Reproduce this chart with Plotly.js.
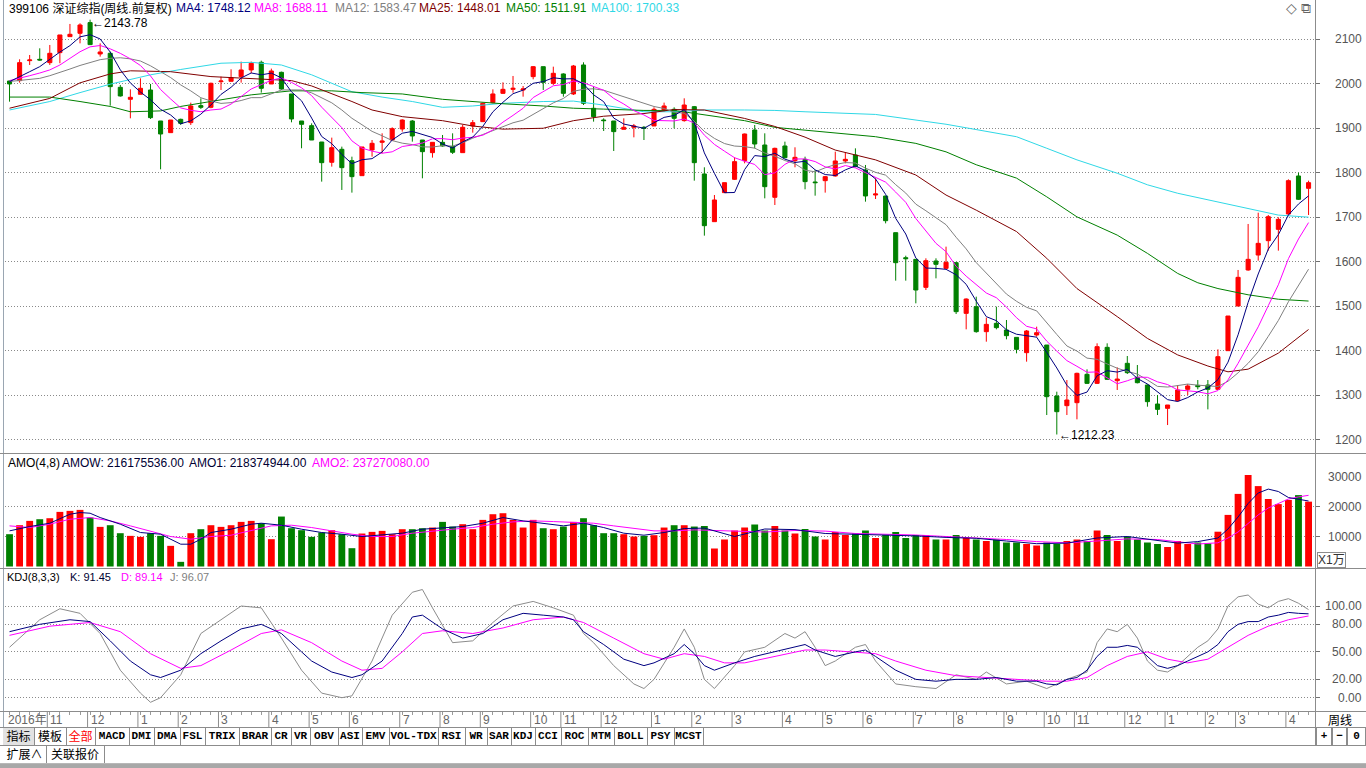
<!DOCTYPE html>
<html><head><meta charset="utf-8">
<script src="https://cdn.plot.ly/plotly-3.0.1.min.js"></script>
<style>
html,body{margin:0;padding:0;background:#fff;width:1366px;height:768px;overflow:hidden;}
#chart{position:absolute;left:0;top:0;width:1366px;height:768px;}
.ln{position:absolute;background:#8c8c8c;}
.cell{position:absolute;box-sizing:border-box;height:17px;border-right:1px solid #8c8c8c;font:12px 'Noto Sans CJK SC',sans-serif;line-height:16px;text-align:center;color:#000;white-space:nowrap;overflow:hidden;}
.lat{font:bold 11px 'Liberation Mono','DejaVu Sans Mono',monospace;line-height:16px;}
</style></head><body>
<div id="chart"></div>
<div id="chrome"></div>
<script>
// ---------- data (weekly, 399106) ----------
const open  = [2006.1,2006.9,2051.8,2054.8,2047.3,2069.8,2105.7,2113.2,2137.2,2066.8,2068.3,1991.9,1965.0,1976.2,1985.9,1916.3,1890.1,1920.0,1912.6,1950.8,1947.0,2004.6,2005.4,2015.9,2030.9,2048.1,1999.4,2025.6,1977.0,1916.3,1905.8,1869.1,1823.5,1852.7,1827.2,1793.5,1851.2,1868.4,1873.6,1898.3,1916.3,1873.6,1845.2,1868.4,1858.7,1845.2,1905.1,1914.8,1957.5,1978.4,1987.4,1985.9,2015.9,2038.3,2000.9,2021.9,1977.0,2042.1,1944.8,1918.5,1916.3,1897.6,1902.1,1902.1,1905.1,1941.0,1942.5,1917.1,1948.5,1797.3,1690.2,1755.4,1785.3,1827.2,1896.1,1862.4,1744.9,1860.2,1827.2,1830.2,1779.3,1782.3,1792.8,1826.5,1839.9,1806.3,1750.1,1747.8,1665.5,1609.3,1605.6,1542.7,1601.9,1585.4,1598.1,1484.3,1499.3,1443.2,1461.9,1446.9,1430.4,1396.0,1435.7,1413.2,1298.7,1277.0,1283.7,1347.4,1327.1,1408.0,1333.1,1372.1,1340.6,1323.4,1280.7,1271.0,1288.2,1313.7,1322.6,1323.4,1313.7,1400.5,1500.8,1581.7,1615.3,1647.5,1673.0,1707.4,1792.8,1765.1];
const high  = [2007.0,2054.8,2064.5,2079.5,2087.0,2109.5,2134.2,2135.7,2143.78,2090.7,2072.0,1997.2,1987.4,2012.1,1999.4,1916.3,1918.5,1921.5,1957.5,1967.2,2002.4,2015.9,2032.4,2049.6,2049.6,2051.8,2033.9,2027.1,1977.0,1916.3,1911.0,1869.1,1878.9,1858.7,1836.2,1857.9,1873.6,1888.6,1902.1,1920.0,1918.5,1873.6,1868.4,1884.9,1888.6,1907.3,1918.5,1957.5,1987.4,2003.1,2017.4,1994.9,2039.8,2038.3,2038.3,2023.4,2042.1,2048.1,1993.4,1922.3,1916.3,1922.3,1909.6,1905.1,1947.0,1957.5,1947.0,1967.2,1950.0,1812.3,1750.1,1777.8,1834.7,1888.0,1907.3,1888.6,1856.4,1869.9,1857.2,1836.2,1806.3,1792.8,1847.4,1845.2,1854.9,1817.5,1787.6,1747.8,1665.5,1613.8,1605.6,1607.9,1607.9,1634.1,1599.6,1518.0,1521.8,1474.6,1499.3,1469.4,1430.4,1446.9,1454.4,1413.2,1308.4,1334.6,1351.1,1358.6,1417.0,1417.0,1363.0,1388.5,1368.3,1324.9,1300.9,1278.5,1323.4,1325.6,1334.6,1334.6,1403.5,1478.3,1581.7,1685.0,1710.4,1705.2,1700.0,1785.3,1800.2,1782.3];
const low   = [1959.7,2002.4,2042.1,2051.8,2042.1,2046.0,2105.7,2090.7,2087.0,2060.8,1950.7,1971.0,1922.3,1976.2,1920.8,1807.8,1890.1,1907.3,1907.3,1943.3,1944.8,1985.9,2005.4,2002.4,2023.4,1980.0,1999.4,1985.9,1913.3,1855.0,1873.6,1780.1,1813.8,1761.4,1755.4,1793.5,1836.2,1843.7,1873.6,1892.4,1869.9,1787.6,1834.0,1858.7,1842.2,1845.2,1890.1,1914.8,1956.0,1977.0,1979.9,1970.9,2009.9,1985.9,1997.2,1970.9,1974.7,1952.2,1914.8,1893.8,1848.9,1897.6,1879.6,1873.6,1905.1,1937.3,1899.8,1914.8,1782.3,1658.8,1690.2,1755.4,1783.8,1821.2,1854.9,1742.6,1727.6,1832.4,1812.3,1762.9,1748.6,1755.4,1791.3,1821.2,1812.3,1735.1,1741.1,1686.4,1557.7,1557.7,1506.8,1536.7,1562.9,1584.0,1482.8,1448.4,1440.9,1420.7,1448.4,1426.0,1394.5,1375.8,1431.9,1256.0,1212.23,1256.0,1246.3,1325.6,1325.6,1334.6,1312.2,1348.1,1327.1,1274.7,1256.0,1233.5,1286.0,1300.9,1313.7,1268.7,1312.2,1400.5,1500.8,1580.0,1602.6,1625.1,1625.1,1706.0,1739.0,1705.2];
const close = [1999.4,2047.3,2053.3,2053.3,2068.3,2109.5,2111.0,2131.9,2087.8,2071.3,1993.4,1972.5,1969.5,1989.7,1923.8,1887.1,1918.5,1911.0,1950.0,1947.0,2000.9,2006.1,2013.6,2030.9,2045.8,1989.7,2028.6,1988.2,1920.8,1908.8,1873.6,1822.7,1856.4,1811.5,1791.3,1857.9,1866.2,1871.4,1899.1,1918.5,1882.6,1847.4,1868.4,1860.2,1846.0,1902.1,1912.6,1956.0,1977.0,1987.4,1989.7,1988.2,2038.3,2003.1,2023.4,1978.4,2039.8,1956.0,1926.0,1917.1,1892.4,1902.1,1905.1,1899.8,1942.5,1950.0,1922.3,1952.2,1822.7,1681.2,1738.9,1777.8,1825.0,1887.1,1864.6,1768.8,1854.9,1833.9,1834.7,1780.1,1777.8,1791.3,1826.5,1830.2,1813.8,1747.9,1752.4,1692.4,1598.1,1607.1,1536.7,1602.6,1594.4,1598.9,1488.1,1516.5,1443.2,1459.6,1452.2,1434.2,1403.5,1444.7,1440.9,1297.2,1263.5,1289.7,1349.6,1327.1,1409.5,1336.1,1336.8,1351.1,1328.6,1286.0,1268.7,1278.5,1312.2,1321.2,1319.6,1313.7,1387.0,1478.3,1565.2,1605.6,1641.5,1701.4,1695.4,1782.3,1740.4,1777.8];

const ma4  = [2004.6,2015.0,2027.0,2038.3,2055.6,2071.1,2085.5,2105.2,2110.1,2100.5,2071.1,2031.3,2001.7,1981.3,1963.9,1942.5,1929.8,1910.1,1916.7,1931.6,1952.2,1976.0,1991.9,2012.9,2024.1,2020.0,2023.8,2013.1,1981.8,1961.6,1922.9,1881.5,1865.4,1841.1,1820.5,1829.3,1831.7,1846.7,1873.7,1888.8,1892.9,1886.9,1879.2,1864.7,1855.5,1869.2,1880.2,1904.2,1936.9,1958.3,1977.5,1985.6,2000.9,2004.8,2013.3,2010.8,2011.2,1999.4,1975.1,1959.7,1922.9,1909.4,1904.2,1899.9,1912.4,1924.4,1928.7,1941.8,1911.8,1844.6,1798.8,1755.2,1755.7,1807.2,1838.6,1836.4,1843.9,1830.6,1823.1,1825.9,1806.6,1796.0,1793.9,1806.5,1815.5,1804.6,1786.1,1751.6,1697.7,1662.5,1608.6,1586.1,1585.2,1583.2,1571.0,1549.5,1511.7,1476.9,1467.9,1447.3,1437.4,1433.7,1430.8,1396.6,1361.6,1322.8,1300.0,1307.5,1344.0,1355.6,1352.4,1358.4,1338.2,1325.6,1308.6,1290.5,1286.4,1295.2,1307.9,1316.7,1335.4,1374.7,1436.1,1509.0,1572.7,1628.4,1661.0,1705.2,1729.9,1748.12];
const ma8  = [2007.0,2012.0,2018.0,2024.0,2031.0,2042.0,2056.0,2071.8,2082.8,2085.8,2078.3,2068.2,2055.9,2040.9,2017.5,1986.9,1965.7,1945.7,1940.3,1937.1,1941.0,1943.1,1954.3,1972.3,1988.2,1998.0,2007.8,2013.0,2003.0,1990.8,1973.3,1947.3,1923.6,1901.3,1871.7,1855.4,1848.6,1843.9,1847.1,1859.0,1862.3,1866.8,1876.4,1876.7,1874.2,1878.0,1879.7,1884.4,1896.2,1913.7,1928.9,1944.9,1968.9,1981.5,1995.4,1998.2,2006.0,2002.1,1994.2,1985.3,1967.0,1954.4,1939.6,1929.8,1917.6,1916.9,1916.4,1920.8,1912.1,1884.5,1863.7,1848.5,1833.8,1825.9,1818.7,1795.8,1799.8,1818.9,1830.9,1831.1,1825.2,1813.3,1808.5,1816.2,1811.0,1800.3,1790.0,1779.0,1756.6,1733.6,1697.3,1668.9,1641.5,1622.8,1589.8,1567.8,1548.4,1530.0,1519.4,1498.4,1474.5,1455.3,1449.4,1421.9,1399.5,1378.2,1365.4,1352.0,1352.8,1339.2,1326.2,1332.9,1341.1,1340.6,1330.5,1324.4,1312.3,1310.4,1308.2,1303.6,1310.9,1334.9,1372.0,1412.9,1454.0,1501.5,1548.5,1607.1,1651.3,1688.11];
const ma12 = [2005.0,2007.0,2009.0,2012.0,2018.0,2025.0,2033.0,2041.0,2048.0,2054.0,2057.0,2058.3,2055.8,2051.0,2040.2,2026.3,2013.8,1997.3,1983.9,1968.5,1961.2,1955.8,1957.5,1962.3,1968.7,1968.7,1977.4,1985.9,1986.1,1985.9,1979.5,1969.1,1957.1,1940.9,1922.4,1907.9,1893.0,1883.1,1872.3,1866.5,1863.3,1858.2,1857.8,1860.9,1860.0,1867.6,1877.7,1885.9,1895.1,1904.8,1912.3,1918.1,1931.1,1944.1,1957.0,1966.9,1983.0,1987.5,1988.6,1985.4,1978.3,1971.2,1964.2,1956.8,1948.8,1944.4,1936.0,1933.8,1915.7,1892.8,1877.2,1865.6,1860.0,1858.7,1855.3,1844.4,1837.1,1827.5,1820.2,1805.8,1802.1,1811.2,1818.5,1822.9,1822.0,1810.4,1801.0,1794.7,1773.3,1754.4,1729.5,1714.7,1699.5,1683.4,1655.2,1629.1,1598.2,1574.2,1549.2,1527.6,1511.4,1497.9,1489.9,1464.5,1436.9,1411.1,1399.6,1383.8,1381.0,1370.7,1361.1,1354.1,1347.9,1334.7,1320.3,1318.8,1322.8,1325.5,1323.0,1321.8,1320.0,1331.8,1350.8,1372.1,1398.1,1432.7,1468.3,1510.3,1546.0,1583.47];
const ma25Idx = [0,4,7,10,12,16,20,24,28,30,32,34,36,39,43,46,49,53,56,59,63,66,69,73,76,79,82,86,90,93,96,100,103,106,110,113,116,119,121,123,126,129];
const ma25 = [1945,1967,2002,2022,2029,2027,2016,2012,2007,1995,1978,1960,1941,1926,1917,1905,1898,1900,1917,1927,1933,1942,1941,1922,1904,1880,1851,1829,1795,1750,1716,1668,1608,1540,1477,1428,1391,1366,1353,1359,1395,1448.01];
const ma50Idx = [0,4,7,10,12,15,17,20,24,28,32,35,39,43,46,49,53,56,59,63,66,69,73,76,79,82,86,90,93,96,100,103,106,110,113,116,118,120,123,126,129];
const ma50 = [1970,1970,1960,1949,1937,1939,1949,1960,1975,1984,1984,1980,1977,1965,1960,1955,1950,1945,1943,1940,1940,1930,1917,1902,1896,1890,1881,1866,1847,1818,1788,1746,1701,1660,1619,1574,1553,1540,1526,1516,1511.91];
const ma100Idx = [0,4,7,10,14,17,21,24,27,30,34,37,40,43,46,49,53,56,59,63,66,69,73,76,79,82,86,93,100,103,106,110,113,116,120,123,126,129];
const ma100 = [1941,1960,1980,1999,2020,2032,2046,2048,2042,2020,1982,1970,1960,1947,1950,1956,1960,1961,1952,1937,1937,1941,1941,1940,1937,1934,1931,1909,1881,1855,1829,1799,1773,1754,1735,1720,1705,1700.33];

// AMO amount, unit: 万
const amo = [10767,13764,15207,15762,16095,18204,18537,18870,16317,13209,13764,11100,10212,9879,11100,10212,6882,1554,11100,12432,13764,13209,13764,14874,15207,14430,9102,16650,12765,12099,9879,11322,12099,10767,6105,10989,11544,11877,10767,12432,12432,12765,12987,14874,13320,14097,12432,15540,17427,17760,15540,12987,15540,12765,12432,13320,14874,16095,13764,11100,11100,10767,9990,10212,10434,12987,13764,13764,13320,13500,6000,9000,12000,13000,14000,12000,13500,12000,11000,12500,10000,9000,11500,10500,11000,12000,9500,10500,11500,9500,10500,10500,9000,9000,10500,9500,9000,8500,9000,8000,8000,7500,7000,8000,7500,8500,9000,8500,12000,10500,8500,10000,9000,8000,7500,6500,8500,7500,8000,7700,11600,17200,24200,30500,26800,22500,20800,22200,23800,21617.55];
const amo1Idx = [0,2,4,6,7,8,9,11,13,15,17,18,19,20,22,24,25,27,29,31,33,35,37,39,41,43,45,47,49,51,53,55,57,59,61,63,65,67,69,72,75,78,81,84,87,90,93,96,99,102,105,108,111,114,116,118,120,121,122,123,124,125,126,127,128,129];
const amo1 = [11877,13320,14430,17427,17982,17760,16317,14097,11322,10767,7437,7437,9102,11322,12432,14097,14430,13764,12432,11322,10767,9990,10545,11100,12432,12987,13320,14430,16317,15207,14430,13542,14430,12987,11100,10434,11322,12654,12800,10000,12500,12300,11000,10800,10500,10200,9700,9400,8500,7600,7800,9500,10000,8600,7800,8300,9500,12500,16500,21000,24500,25800,25000,23000,22300,21837];
const amo2Idx = [0,2,4,6,8,10,12,14,16,18,20,22,24,26,28,30,32,34,36,38,40,42,44,46,48,50,52,54,56,58,60,62,64,66,68,72,75,78,81,84,87,90,93,96,99,102,105,108,111,114,116,118,120,121,122,123,124,125,126,127,128,129];
const amo2 = [13542,12987,14097,15762,16317,15207,13542,11877,9990,9102,9990,10434,11877,13542,13764,12987,11877,10767,9990,9990,11100,11877,12432,12987,14097,14874,15207,14985,14652,14430,13542,12654,11877,11877,12210,11800,11500,12000,11800,11000,10800,10500,10000,9600,9000,8300,7900,8500,9200,9000,8200,7500,7900,9500,11500,14500,17200,19500,21000,22500,23200,23727];

// KDJ(8,3,3)
const kIdx = [0,3,6,8,10,12,14,15,17,19,21,23,25,27,29,30,32,34,35,37,39,40,41,43,45,47,49,51,53,55,56,57,59,61,63,64,66,67,68,69,70,72,74,76,78,79,80,82,84,85,86,88,90,92,94,96,98,100,102,103,104,105,106,107,108,109,110,111,112,113,114,115,116,117,118,119,120,121,122,123,124,125,126,127,128,129];
const kVal = [72,80,85,83,62,40,25,22,30,48,62,75,80,70,50,40,28,22,25,40,70,88,90,75,65,70,85,92,90,88,85,72,58,42,35,38,48,58,48,35,30,38,45,50,55,58,52,45,50,52,45,30,20,18,20,20,22,18,18,15,14,20,22,30,45,55,55,57,55,45,35,32,35,40,45,50,58,72,80,83,83,88,90,93,92,91.45];
const dIdx = [0,4,8,11,14,17,19,22,25,27,30,33,35,37,39,41,43,46,49,52,55,57,60,63,65,67,69,71,73,76,79,81,84,86,88,91,94,97,100,103,105,107,109,111,113,115,117,119,121,123,125,127,129];
const dVal = [68,78,82,72,48,32,35,52,70,74,60,40,30,32,50,70,73,70,76,85,88,82,65,48,42,48,45,38,38,45,52,52,50,48,40,30,24,22,20,18,18,22,35,45,50,42,38,42,55,68,78,85,89.14];
const jIdx = [0,3,5,7,9,11,13,14,15,17,19,21,23,25,27,29,31,33,34,36,38,40,41,42,44,46,48,50,52,54,56,57,58,60,62,63,64,66,67,68,69,70,72,73,75,77,78,79,80,81,82,84,85,86,88,90,92,94,96,97,99,101,103,105,107,108,109,110,111,112,113,114,115,116,117,118,119,120,121,122,123,124,125,126,127,128,129];
const jVal = [55,85,97,92,70,30,5,-5,0,25,70,85,100,98,65,30,5,0,2,40,90,115,118,98,60,62,82,100,105,98,90,70,60,35,15,10,20,55,75,55,20,10,35,50,55,70,65,72,55,35,40,55,58,40,15,12,10,25,20,28,15,18,10,20,28,60,75,72,80,65,40,30,28,35,45,55,62,75,100,110,112,102,98,105,108,103,96.07];

// axis labels
const monthIdx = [4,8,13,17,21,26,30,34,39,43,47,52,55,59,64,68,72,77,81,85,90,94,99,103,106,111,115,119,122,127];
const monthLbl = ['11','12','1','2','3','4','5','6','7','8','9','10','11','12','1','2','3','4','5','6','7','8','9','10','11','12','1','2','3','4'];
const priceTicks = [2100,2000,1900,1800,1700,1600,1500,1400,1300,1200];
const amoTicks = [30000,20000,10000];
const amoGrid = [10000,20000];
const kdjTicks = [100,80,50,20,0];

// ---------- build ----------
const weeks = close.map((_, i) => i);
const px = x => (x - 5) / 1310, py = y => (711 - y) / 711;
const FONT = 'Liberation Sans, Arial, Noto Sans CJK SC, sans-serif';
const upC = '#ff0000', dnC = '#008000';

const traces = [];
traces.push({type:'candlestick', x:weeks, open, high, low, close, xaxis:'x', yaxis:'y',
  increasing:{line:{color:upC,width:1}, fillcolor:upC},
  decreasing:{line:{color:dnC,width:1}, fillcolor:dnC},
  whiskerwidth:0, hoverinfo:'skip'});
const L = (x, y, color, ax) => ({type:'scatter', mode:'lines', x, y, yaxis:ax, line:{color, width:1}, hoverinfo:'skip'});
traces.push(L(ma100Idx, ma100, '#2fd8e6', 'y'));
traces.push(L(ma50Idx, ma50, '#008000', 'y'));
traces.push(L(ma25Idx, ma25, '#800000', 'y'));
traces.push(L(weeks, ma12, '#808080', 'y'));
traces.push(L(weeks, ma8, '#ff00ff', 'y'));
traces.push(L(weeks, ma4, '#000080', 'y'));

traces.push({type:'bar', x:weeks, y:amo, yaxis:'y2', width:0.68,
  marker:{color: close.map((c, i) => c >= open[i] ? upC : dnC), line:{width:0}}, hoverinfo:'skip'});
traces.push(L(amo2Idx, amo2, '#ff00ff', 'y2'));
traces.push(L(amo1Idx, amo1, '#000080', 'y2'));

traces.push(L(jIdx, jVal, '#8c8c8c', 'y3'));
traces.push(L(dIdx, dVal, '#ff00ff', 'y3'));
traces.push(L(kIdx, kVal, '#000080', 'y3'));

const grid = {showgrid:true, gridcolor:'#8a8a8a', griddash:'1px,2px', gridwidth:1, zeroline:false,
  showticklabels:false, ticks:'outside', ticklen:4, tickcolor:'#707070', side:'right', fixedrange:true, showline:false};

const ann = [];
const A = (o) => ann.push(Object.assign({showarrow:false, font:{family:FONT, size:12, color:'#000'}}, o));
// header texts
const hdr = [[7,'399106 深证综指(周线.前复权)','#000'],[174,'MA4: 1748.12','#000080'],[252,'MA8: 1688.11','#ff00ff'],
  [333,'MA12: 1583.47','#808080'],[417,'MA25: 1448.01','#800000'],[504,'MA50: 1511.91','#008000'],[589,'MA100: 1700.33','#2fd8e6']];
hdr.forEach(h => A({xref:'paper', yref:'paper', x:px(h[0]), y:py(8), xanchor:'left', yanchor:'middle', text:h[1], font:{family:FONT,size:12,color:h[2]}}));
A({xref:'paper', yref:'paper', x:px(1291), y:py(8), xanchor:'center', yanchor:'middle', text:'◇', font:{family:'DejaVu Sans',size:14,color:'#666'}});
A({xref:'paper', yref:'paper', x:px(1306), y:py(8), xanchor:'center', yanchor:'middle', text:'⧉', font:{family:'DejaVu Sans',size:14,color:'#666'}});
const amoH = [[6,'AMO(4,8)','#000'],[60,'AMOW: 216175536.00','#000033'],[187,'AMO1: 218374944.00','#000033'],[310,'AMO2: 237270080.00','#ff00ff']];
amoH.forEach(h => A({xref:'paper', yref:'paper', x:px(h[0]), y:py(463), xanchor:'left', yanchor:'middle', text:h[1], font:{family:FONT,size:12,color:h[2]}}));
const kdjH = [[5,'KDJ(8,3,3)','#000'],[68,'K: 91.45','#000033'],[119,'D: 89.14','#ff00ff'],[168,'J: 96.07','#808080']];
kdjH.forEach(h => A({xref:'paper', yref:'paper', x:px(h[0]), y:py(577), xanchor:'left', yanchor:'middle', text:h[1], font:{family:FONT,size:11,color:h[2]}}));
// extremes
A({xref:'x', yref:'y', x:8, y:2143.78, xanchor:'left', yanchor:'middle', yshift:-3, text:'←2143.78'});
A({xref:'x', yref:'y', x:104, y:1212.23, xanchor:'left', yanchor:'middle', text:'←1212.23'});
// right axis labels
priceTicks.forEach(v => A({xref:'paper', yref:'y', x:px(1364), y:v, xanchor:'right', yanchor:'middle', text:String(v), font:{family:FONT,size:12,color:'#555'}}));
amoTicks.forEach(v => A({xref:'paper', yref:'y2', x:px(1364), y:v, xanchor:'right', yanchor:'middle', text:String(v), font:{family:FONT,size:12,color:'#555'}}));
kdjTicks.forEach(v => A({xref:'paper', yref:'y3', x:px(1364), y:v, xanchor:'right', yanchor:'middle', text:v.toFixed(2), font:{family:FONT,size:12,color:'#555'}}));
A({xref:'paper', yref:'paper', x:px(1317), y:py(560), xanchor:'left', yanchor:'middle', text:'X1万', bordercolor:'#8c8c8c', borderwidth:1, borderpad:0, font:{family:FONT,size:12,color:'#333'}});
// date row
A({xref:'paper', yref:'paper', x:px(6), y:py(719.5), xanchor:'left', yanchor:'middle', text:'2016年', font:{family:FONT,size:12,color:'#666'}});
monthIdx.forEach((m, k) => A({xref:'x', yref:'paper', x:m - 0.25, xshift:1, y:py(719.5), xanchor:'left', yanchor:'middle', text:monthLbl[k], font:{family:FONT,size:12,color:'#666'}}));
A({xref:'paper', yref:'paper', x:px(1340), y:py(719.5), xanchor:'center', yanchor:'middle', text:'周线', font:{family:'Noto Sans CJK SC',size:12,color:'#000'}});

const shapes = monthIdx.map(m => ({type:'line', xref:'x', yref:'paper', x0:m - 0.25, x1:m - 0.25, y0:py(712), y1:py(727), line:{color:'#8c8c8c', width:1}}));

const layout = {
  width:1366, height:768, margin:{l:5, r:51, t:0, b:57},
  paper_bgcolor:'#fff', plot_bgcolor:'#fff', showlegend:false, hovermode:false,
  font:{family:FONT, size:12, color:'#000'},
  boxgap:0.42,
  xaxis:{range:[-0.45, 129.64], anchor:'y3', showgrid:false, zeroline:false, showticklabels:false, showline:false,
    rangeslider:{visible:false}, tickmode:'array', tickvals:weeks, ticks:'outside', ticklen:3, tickcolor:'#9a9a9a', fixedrange:true},
  yaxis:Object.assign({}, grid, {domain:[py(453), 1], range:[1170.7, 2188.0], tickmode:'array', tickvals:priceTicks}),
  yaxis2:Object.assign({}, grid, {domain:[py(568), py(454)], range:[-500, 37500], tickmode:'array', tickvals:amoGrid}),
  yaxis3:Object.assign({}, grid, {domain:[0, py(569)], range:[-14.5, 140.35], tickmode:'array', tickvals:kdjTicks}),
  annotations:ann, shapes
};
Plotly.newPlot('chart', traces, layout, {staticPlot:true, displayModeBar:false});

// ---------- chrome: separators and toolbar ----------
const tabs = ['指标','模板','全部','MACD','DMI','DMA','FSL','TRIX','BRAR','CR','VR','OBV','ASI','EMV','VOL-TDX','RSI','WR','SAR','KDJ','CCI','ROC','MTM','BOLL','PSY','MCST'];
const tabEdge = [3,34,66,95,129,154,180,205,239,271,291,310,338,362,389,438,465,487,511,535,561,588,614,647,674,703];
let h = '';
const line = (l, t, w, hh, c) => `<div class="ln" style="left:${l}px;top:${t}px;width:${w}px;height:${hh}px;${c ? 'background:' + c : ''}"></div>`;
h += line(3, 0, 1, 728, '#9aa6b2');
h += line(1315, 0, 1, 745);
[453, 568, 711, 727, 745].forEach(t => h += line(0, t, 1366, 1));
tabs.forEach((t, k) => {
  const lat = /^[A-Z]/.test(t);
  const bg = k === 0 ? 'background:#e2e2e2;' : '';
  const col = k === 2 ? 'color:#ff0000;' : '';
  h += `<div class="cell${lat ? ' lat' : ''}" style="top:728px;left:${tabEdge[k]}px;width:${tabEdge[k+1]-tabEdge[k]+1}px;${bg}${col}">${t}</div>`;
});
[['+',1316,1332],['−',1332,1347],['0',1347,1366]].forEach(b => {
  h += `<div class="cell lat" style="top:728px;left:${b[1]}px;width:${b[2]-b[1]}px;border-left:1px solid #8c8c8c;">${b[0]}</div>`;
});
h += `<div class="cell" style="top:746px;left:3px;width:44px;">扩展∧</div>`;
h += `<div class="cell" style="top:746px;left:46px;width:59px;">关联报价</div>`;
h += line(0, 763, 1366, 1, '#b8b8b8');
h += line(0, 764, 1366, 4, '#a8a8a8');
document.getElementById('chrome').innerHTML = h;
</script>
</body></html>
